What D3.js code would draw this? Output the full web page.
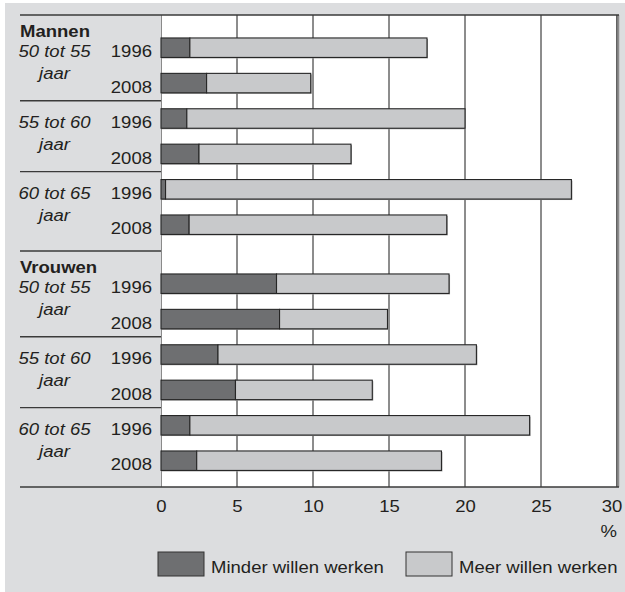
<!DOCTYPE html>
<html>
<head>
<meta charset="utf-8">
<script src="https://cdn.jsdelivr.net/npm/d3@7"></script>
<style>
html,body{margin:0;padding:0;background:#fff;}
svg{display:block;}
text{font-family:"Liberation Sans",Arial,Helvetica,sans-serif;fill:#231f20;}
</style>
</head>
<body>
<svg id="chart" width="625" height="592"></svg>
<script>
// ---- data ----
const genders = ["Mannen", "Vrouwen"];
const ageGroups = ["50 tot 55", "55 tot 60", "60 tot 65"];
const years = ["1996", "2008"];
const seriesNames = ["Minder willen werken", "Meer willen werken"];
const minderMannen = [1.9, 3.0, 1.7, 2.5, 0.3, 1.85];
const meerMannen   = [15.6, 6.85, 18.3, 10.0, 26.7, 16.95];
const minderVrouwen = [7.6, 7.8, 3.75, 4.9, 1.9, 2.35];
const meerVrouwen   = [11.35, 7.1, 17.0, 9.0, 22.35, 16.1];
const xTicks = [0, 5, 10, 15, 20, 25, 30];

(function () {
const rows = [];
genders.forEach((g, gi) => {
  const minder = gi === 0 ? minderMannen : minderVrouwen;
  const meer = gi === 0 ? meerMannen : meerVrouwen;
  ageGroups.forEach((a, ai) => {
    years.forEach((yr, yi) => {
      const i = ai * 2 + yi;
      rows.push({gender: g, gi, age: a, ai, year: yr, yi, idx: i,
        minder: minder[i], meer: meer[i]});
    });
  });
});

// ---- layout ----
const svg = d3.select("#chart");
const W = 625, H = 592;
const pL = 161, pR = 617, pT = 15, pB = 487;
const FS = 17, SX = 1.09;
const dark = "#6e6f71", light = "#c8c9cb", bg = "#dcdddf", ink = "#231f20";

const x = d3.scaleLinear().domain([0, 30]).range([pL, pR]);
const section = d3.scaleBand().domain(genders).range([pT, pB]);
const secH = section.bandwidth();
const rowBand = d3.scaleBand().domain(d3.range(6))
  .range([15, 15 + 212.4]).paddingInner(0.45).paddingOuter(0.225);
const yRow = d => section(d.gender) + rowBand(d.idx);
const bw = rowBand.bandwidth();

function txt(sel, xx, yy, s, opts = {}) {
  return sel.append("text")
    .attr("transform", `translate(${xx},${yy}) scale(${SX},1)`)
    .attr("font-size", opts.size || FS)
    .attr("font-style", opts.italic ? "italic" : null)
    .attr("font-weight", opts.bold ? "bold" : null)
    .attr("text-anchor", opts.anchor || "start")
    .text(s);
}

// background
svg.append("rect").attr("x", 5).attr("y", 3).attr("width", W - 5).attr("height", H - 3).attr("fill", bg);
// plot area
svg.append("rect").attr("x", pL).attr("y", pT).attr("width", pR - pL).attr("height", pB - pT).attr("fill", "#fff");

// gridlines
svg.append("g").selectAll("line").data(xTicks.filter(t => t > 0 && t < 30)).join("line")
  .attr("x1", d => x(d)).attr("x2", d => x(d)).attr("y1", pT).attr("y2", pB)
  .attr("stroke", "#1a1a1a").attr("stroke-width", 1);
// zero line
svg.append("line").attr("x1", pL + 0.5).attr("x2", pL + 0.5).attr("y1", pT).attr("y2", pB)
  .attr("stroke", "#8a8a8a").attr("stroke-width", 1);
// right border
svg.append("line").attr("x1", pR + 1).attr("x2", pR + 1).attr("y1", pT).attr("y2", pB)
  .attr("stroke", "#8c8c8c").attr("stroke-width", 2.5);
svg.append("line").attr("x1", pR - 0.3).attr("x2", pR - 0.3).attr("y1", pT).attr("y2", pB)
  .attr("stroke", "#444").attr("stroke-width", 1);

// bars (stacked)
const stack = d3.stack().keys(["minder", "meer"]);
const stacked = stack(rows);
const gBars = svg.append("g");
gBars.selectAll("rect.shadow").data(rows).join("rect").attr("class", "shadow")
  .attr("x", x(0) + 1).attr("y", d => yRow(d) + 1)
  .attr("width", d => x(d.minder + d.meer) - x(0)).attr("height", bw)
  .attr("fill", "#9a9a9a");
stacked.forEach((layer, li) => {
  gBars.append("g").selectAll("rect").data(layer).join("rect")
    .attr("x", d => x(d[0]))
    .attr("y", d => yRow(d.data))
    .attr("width", d => x(d[1]) - x(d[0]))
    .attr("height", bw)
    .attr("fill", li === 0 ? dark : light)
    .attr("stroke", "#262626").attr("stroke-width", 1.1);
});

// left panel labels
const gLab = svg.append("g");
genders.forEach(g => {
  const first = rows.find(r => r.gender === g && r.idx === 0);
  txt(gLab, 20, yRow(first) - 1, g, {bold: true});
});
rows.forEach(r => {
  txt(gLab, 152, yRow(r) + bw, r.year, {anchor: "end"});
  if (r.yi === 0) {
    txt(gLab, 54.5, yRow(r) + bw, r.age, {italic: true, anchor: "middle"});
    txt(gLab, 54.5, yRow(r) + bw + 21.5, "jaar", {italic: true, anchor: "middle"});
  }
});

// separators
const sepYs = [pT];
genders.forEach(g => {
  [2, 4].forEach(i => {
    const prev = rows.find(r => r.gender === g && r.idx === i - 1);
    const next = rows.find(r => r.gender === g && r.idx === i);
    sepYs.push((yRow(prev) + bw + yRow(next)) / 2);
  });
  sepYs.push(section(g) + secH);
});
svg.append("g").selectAll("line").data(sepYs).join("line")
  .attr("x1", 20).attr("x2", (d, i) => (i === 0 || i === sepYs.length - 1) ? pR + 2 : pL)
  .attr("y1", d => d).attr("y2", d => d)
  .attr("stroke", "#3a3a3a").attr("stroke-width", 1.4);

// x axis
const axis = d3.axisBottom(x).tickValues(xTicks).tickSize(0).tickPadding(12.9).tickFormat(d3.format("d"));
const gAx = svg.append("g").attr("transform", `translate(0,${pB})`).call(axis);
gAx.select(".domain").remove();
gAx.attr("font-family", null).attr("font-size", null);
gAx.selectAll("text").attr("font-size", FS).attr("fill", ink)
  .attr("transform", `scale(${SX},1)`)
  .attr("x", d => d === 30 ? -5 : 0);
txt(svg, 617, 537, "%", {anchor: "end"});

// legend
const legendItems = [
  {name: seriesNames[0], color: dark, x: 158},
  {name: seriesNames[1], color: light, x: 406}
];
legendItems.forEach(it => {
  svg.append("rect").attr("x", it.x).attr("y", 552).attr("width", 46).attr("height", 24)
    .attr("fill", it.color).attr("stroke", "#333").attr("stroke-width", 1);
  txt(svg, it.x + 53, 573, it.name);
});
})();
</script>
</body>
</html>
